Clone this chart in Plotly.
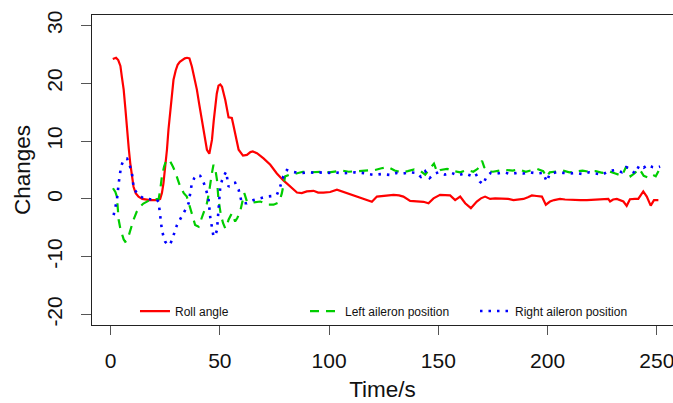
import plotly.graph_objects as go

# ---- data ----
roll_t = [1, 2.5, 3.5, 4.5, 5.2, 6, 6.8, 7.5, 8.3, 9, 9.8, 10.5, 11.5, 12.8, 14.5, 16, 18, 20, 21.5,
          22.7, 23.5, 24.2, 25, 25.8, 26.5, 27.3, 28, 28.8, 29.8, 30.7, 31.7, 32.7, 34, 35, 36.1,
          37.2, 38.3, 39.5, 40.6, 41.8, 43, 44.1, 45.2, 46.4, 47.2, 47.9, 48.6, 49.4, 50.2, 51,
          52.5, 54, 55.5, 56.2, 57, 58.6, 60.6, 62.4, 64, 65.1, 67, 70, 73.1, 76.1, 79.1, 82.2,
          85.3, 87.5, 89.8, 92.9, 95, 97.4, 100.5, 103.6, 106, 108, 111, 113.5, 115.8, 118, 119.6,
          121.9, 125, 128, 129.5, 132, 134, 137.1, 140, 143.2, 145.5, 147.8, 150.8, 153, 155.4,
          157.7, 160, 162.3, 164.9, 167.6, 169.5, 171.4, 173.7, 176, 179.8, 182, 184.4, 187, 189,
          191, 192.8, 195, 197.4, 199.2, 201.1, 203, 205.7, 208, 211.8, 215, 218, 222, 225, 227.8,
          228.6, 230, 231.7, 233, 234.7, 236.2, 237.7, 240, 241.5, 243.8, 245.4, 247.2, 248.7, 250.7]
roll_v = [24.2, 24.4, 24.0, 23.0, 21, 18.9, 15.5, 11.9, 8.8, 6.2, 3.8, 2.1, 1.0, 0.4, 0.0, -0.1, -0.2, -0.2, -0.2,
          0.0, 1.0, 2.7, 5.5, 8.5, 12, 15.4, 18.2, 20.6, 22.2, 23.2, 23.7, 24.0, 24.3, 24.4, 24.3,
          22.9, 21.0, 18.9, 16.3, 13.7, 11.0, 8.5, 7.8, 10.2, 13.5, 16, 18.2, 19.6, 19.8, 19.4,
          17.1, 14.1, 14.0, 12.8, 11.4, 8.5, 7.5, 7.6, 8.1, 8.2, 7.9, 7.0, 5.9, 4.4, 3.2, 2.1,
          1.1, 1.0, 1.3, 1.4, 1.1, 1.1, 1.2, 1.6, 1.3, 1.0, 0.6, 0.3, -0.05, -0.2, -0.5,
          0.4, 0.5, 0.6, 0.7, 0.6, 0.4, -0.35, -0.4, -0.5, -0.75, 0.1, 0.7, 0.7, 0.6,
          -0.2, 0.4, -0.75, -1.6, -0.45, 0.1, 0.4, 0.0, 0.1, 0.1, 0.0, -0.2, -0.1, 0.0,
          0.3, 0.6, 0.5, 0.4, -1.0, -0.45, -0.2, 0.0, -0.1, -0.2, -0.2, -0.2, -0.1, 0.0, 0.0,
          -0.45, -0.1, 0.0, -0.2, -0.45, -1.2, -0.05, 0.0, 0.0, 1.3, 0.4, -1.15, -0.2, -0.2]

left_t = [1.1, 2.2, 2.9, 3.7, 4.5, 5.2, 6.0, 6.7, 7.5, 8.2, 9.3, 10.5, 12, 13.6, 15, 16.7, 18, 19.7, 21, 22,
          22.8, 23.5, 24.5, 25.5, 26.5, 27.3, 28.5, 29.6, 30.8, 31.9, 33.5, 34.9, 36, 37.2, 38.7, 40.3,
          41.8, 43, 44.1, 45, 45.6, 46.4, 47.1, 48, 48.7, 49.4, 50.5, 51.5, 52.5, 53.3, 54, 55.5, 57,
          58, 59.3, 60.3, 61.2, 62.4, 64, 65.4, 68.5, 70.5, 72.3, 74.6, 76.5, 77.5, 78.4, 79.9, 82,
          85, 88, 91, 94, 97, 100, 103, 106, 109, 112, 115, 118, 121, 124, 127, 130, 133, 136, 139,
          142, 144, 146, 148, 149.5, 151, 154, 157, 160, 163, 166, 168, 170, 171, 172.5, 175, 178,
          181, 184, 187, 190, 192, 195, 198, 199.5, 201, 204, 207, 210, 213, 216, 219, 222, 225, 228,
          231, 234, 236, 238, 240, 242, 244, 246, 248, 249.5, 251]
left_v = [1.85, 1.2, 0.4, -3.6, -5.2, -6.2, -7.0, -7.4, -7.2, -6.5, -5.0, -3.6, -2.2, -1.3, -0.8, -0.45, -0.2, -0.05, -0.05, -0.05,
          1.8, 3.9, 5.6, 6.7, 6.8, 6.5, 5.6, 4.7, 3.3, 2.1, 1.0, 0.4, -1.0, -2.5, -4.5, -4.8,
          -3.3, -2.0, -0.75, 1.0, 2.7, 4.5, 5.9, 5.0, 3.3, -0.2, -2.8, -4.2, -5.1, -4.5, -3.6, -2.5, -3.9,
          -3.3, -2.2, -0.5, 1.0, -0.45, -0.6, -0.6, -0.45, -0.8, -1.0, -1.0, -0.7, -0.2, 1.0, 3.9, 4.2,
          4.4, 4.7, 4.6, 4.7, 4.7, 4.6, 4.8, 4.9, 4.7, 4.8, 4.9, 4.9, 5.0, 5.3, 5.5, 4.9, 4.6, 4.8, 5.1,
          4.8, 4.2, 5.2, 6.1, 4.6, 5.0, 5.2, 4.8, 4.6, 5.0, 4.7, 5.2, 6.6, 5.5, 4.8, 4.7, 4.9,
          5.0, 4.9, 5.1, 4.7, 4.9, 5.2, 4.8, 3.8, 4.6, 4.8, 4.9, 4.6, 4.8, 4.9, 4.7, 4.8, 4.5, 4.8,
          4.4, 4.0, 5.6, 3.9, 4.5, 5.2, 4.0, 3.7, 4.2, 3.9, 5.0]

right_t = [1.4, 2.2, 2.9, 3.7, 4.8, 5.8, 6.7, 7.5, 8.2, 9.0, 9.8, 10.5, 11.5, 12.8, 15.1, 18.2, 21.2, 22.0,
           22.7, 23.5, 24.3, 25, 26.5, 27.3, 28.1, 29.2, 30.4, 32, 33.4, 34.5, 35.7, 36.5, 37.2, 38.3,
           39.5, 41, 42.2, 43.3, 44.8, 45.6, 46.4, 47.1, 48, 48.7, 49.4, 50.2, 51, 51.7, 52.9, 54, 55.5,
           57, 58.6, 60.1, 62.4, 65.4, 68.5, 71.5, 74, 76.1, 77.6, 79.1, 80.7, 83, 85.3, 88, 91, 94.4,
           97, 100, 103, 106, 109, 112, 115, 117.3, 120.3, 124, 128, 131, 134, 137, 140, 142, 144, 146,
           148, 150, 153, 156, 159, 162, 165, 167, 169, 170.5, 172, 174, 177, 180, 183, 186, 189, 192,
           195, 198, 199.6, 201, 204, 207, 210, 213, 216, 219, 222, 225, 228, 231, 234, 236, 238, 240,
           242, 244, 246, 248, 250, 251.5]
right_v = [-2.8, -1.6, -0.2, 2.7, 5.6, 6.6, 7.0, 7.0, 6.5, 5.5, 4.4, 2.1, 1.3, 0.7, 0.1, -0.05, -0.05, -0.6,
           -2.5, -5.4, -6.6, -7.4, -8.0, -7.8, -7.1, -5.8, -4.5, -3.4, -2.5, -1.7, -0.75, 1.0, 2.7, 3.6,
           4.15, 4.0, 3.2, 2.1, 0.1, -3.1, -5.2, -6.5, -6.2, -5.4, -1.9, 2.1, 3.2, 3.9, 4.7, 2.1, 2.7,
           2.8, 1.6, -0.75, -0.75, -0.2, 0.1, 0.4, 0.5, 0.7, 2.1, 3.9, 5.0, 4.7, 4.55, 4.5, 4.6, 4.5,
           4.6, 4.5, 4.6, 4.4, 4.5, 4.6, 4.5, 4.4, 4.15, 4.3, 4.15, 4.5, 4.4, 4.6, 4.5, 3.8, 4.8, 3.6,
           4.3, 4.6, 4.2, 4.5, 4.1, 4.4, 4.0, 4.4, 3.0, 2.5, 3.8, 4.5, 4.4, 4.6, 4.3, 4.5, 4.4, 4.6,
           4.4, 4.5, 3.0, 4.3, 4.6, 4.5, 4.4, 4.5, 4.3, 4.6, 4.4, 4.2, 4.8, 5.0, 4.6, 5.5, 5.2, 4.4,
           5.8, 5.4, 5.9, 5.5, 5.4, 5.6]

x_ticks = [0, 50, 100, 150, 200, 250]
y_ticks = [-20, -10, 0, 10, 20, 30]

FONT = "Liberation Sans, Arial, sans-serif"

fig = go.Figure()
fig.add_trace(go.Scatter(x=roll_t, y=roll_v, mode="lines", name="Roll angle",
                         line=dict(color="#FF0000", width=2.2)))
fig.add_trace(go.Scatter(x=left_t, y=left_v, mode="lines", name="Left aileron position",
                         line=dict(color="#00CD00", width=2.2, dash="9px,7px")))
fig.add_trace(go.Scatter(x=right_t, y=right_v, mode="lines", name="Right aileron position",
                         line=dict(color="#0000FF", width=2.6, dash="2.5px,6px")))

fig.update_layout(
    width=673, height=403,
    margin=dict(l=92, r=0, t=15, b=78, autoexpand=False),
    paper_bgcolor="white", plot_bgcolor="white",
    font=dict(family=FONT, color="black"),
    showlegend=True,
    legend=dict(orientation="h", x=0.074, xanchor="left", y=0.045, yanchor="middle",
                bgcolor="rgba(0,0,0,0)", font=dict(size=12, color="#111111"),
                entrywidth=125, entrywidthmode="pixels", tracegroupgap=0,
                itemwidth=30),
)
fig.update_xaxes(range=[-8.5, 257.4], tickvals=x_ticks, ticktext=[str(v) for v in x_ticks],
                 automargin=False, ticklabeloverflow="allow", ticklabelstandoff=8,
                 showgrid=False, zeroline=False, showline=True, linecolor="#222222", linewidth=1.3,
                 mirror=True, ticks="outside", ticklen=9, tickwidth=1.2, tickcolor="#555555",
                 tickfont=dict(size=21, color="#111111"),
                 title=dict(text="Time/s", font=dict(size=22.5, color="#111111"), standoff=9))
fig.update_yaxes(range=[-21.8, 31.8], tickvals=y_ticks, ticktext=[str(v) for v in y_ticks],
                 automargin=False, ticklabelstandoff=10,
                 showgrid=False, zeroline=False, showline=True, linecolor="#222222", linewidth=1.3,
                 mirror=True, ticks="outside", ticklen=10, tickwidth=1.2, tickcolor="#555555",
                 tickangle=-90, tickfont=dict(size=21, color="#111111"),
                 title=dict(text="Changes", font=dict(size=22.5, color="#111111"), standoff=6))

# remove the default page margin so the 673x403 figure fills the window exactly
fig.write_html("out.html",
               config={"displayModeBar": False},
               post_script="document.body.style.margin='0';document.body.style.overflow='hidden';")
